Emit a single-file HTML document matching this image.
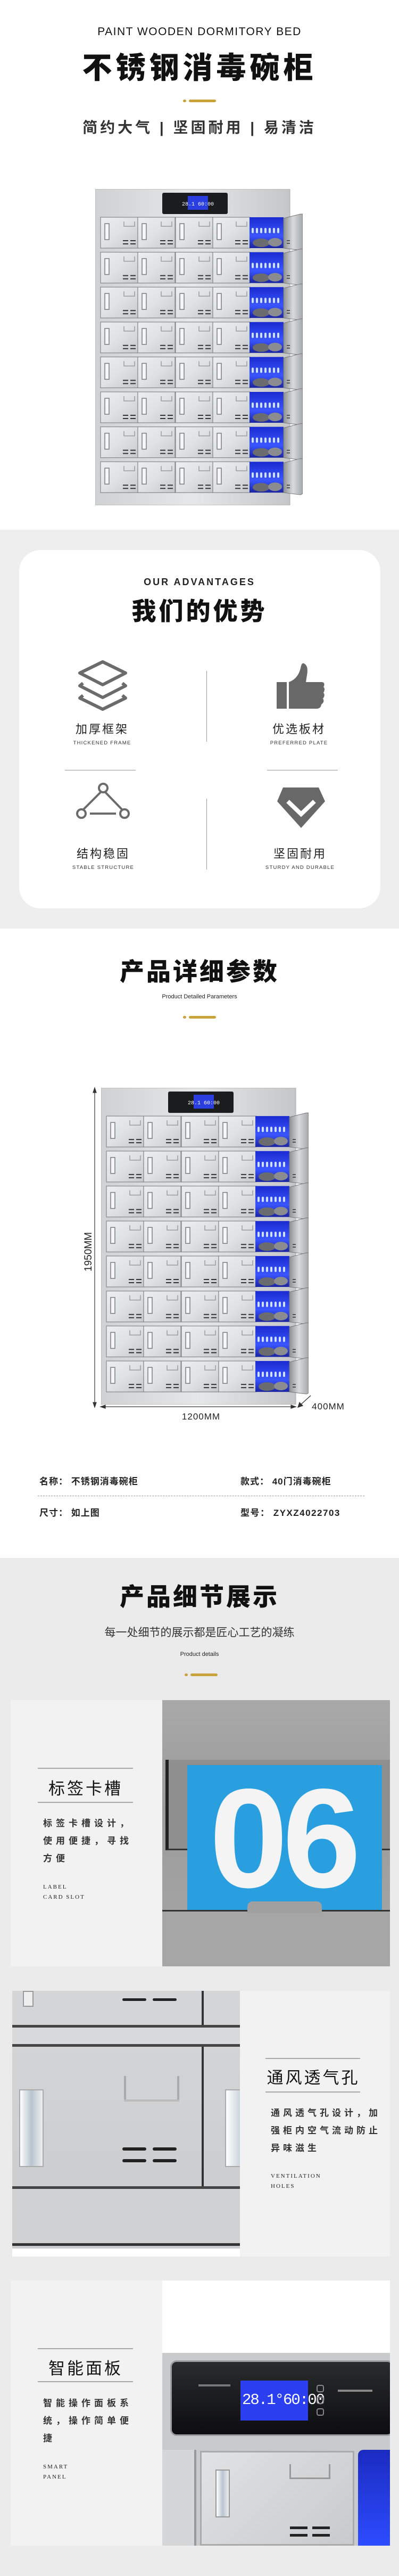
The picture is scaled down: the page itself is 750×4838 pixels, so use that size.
<!DOCTYPE html>
<html><head><meta charset="utf-8">
<style>
*{margin:0;padding:0;box-sizing:border-box}
body{width:750px;height:4838px;position:relative;background:#fff;font-family:"Liberation Sans","Noto Sans CJK SC",sans-serif;overflow:hidden}
.a{position:absolute}
.c{position:absolute;left:0;width:750px;text-align:center;white-space:nowrap}
.h{font-family:"Liberation Sans","Noto Sans CJK SC",sans-serif;font-weight:900;color:#111}
.gold{position:absolute;height:6px}
.lbl{font-size:22px;color:#222;letter-spacing:3px}
.en{font-size:9.5px;color:#333;letter-spacing:1.2px}
.dt{font-family:"Liberation Sans","Noto Sans CJK SC",sans-serif;font-size:31px;color:#111;letter-spacing:4px;width:180px;text-align:center}
.dd{font-size:17px;color:#333;font-weight:700;letter-spacing:7px;line-height:33px;width:180px}
.de{font-family:"Liberation Serif",serif;font-size:11px;letter-spacing:2px;color:#222;line-height:19px}
.ln{height:2px;background:#a9a9a9}
</style></head><body>
<svg width="0" height="0" style="position:absolute">
<defs>
<linearGradient id="dg" x1="0" y1="0" x2="1" y2="1"><stop offset="0" stop-color="#eceef0"/><stop offset=".5" stop-color="#dfe2e5"/><stop offset="1" stop-color="#c6c9cc"/></linearGradient>
<linearGradient id="bg" x1="0" y1="0" x2="0" y2="1"><stop offset="0" stop-color="#1a2bd0"/><stop offset=".6" stop-color="#3a55ff"/><stop offset="1" stop-color="#1a24a0"/></linearGradient>
<linearGradient id="og" x1="0" y1="0" x2="1" y2="0"><stop offset="0" stop-color="#8e9194"/><stop offset=".5" stop-color="#d8dadc"/><stop offset="1" stop-color="#a5a8ab"/></linearGradient>
<linearGradient id="body" x1="0" y1="0" x2="1" y2="0"><stop offset="0" stop-color="#cfd1d3"/><stop offset=".5" stop-color="#e6e7e9"/><stop offset="1" stop-color="#c4c6c8"/></linearGradient>
<g id="door">
<rect x="0" y="0" width="70" height="58" fill="url(#dg)" stroke="#85888b" stroke-width="1.2"/>
<rect x="8" y="12" width="8" height="30" fill="#f6f6f6" stroke="#7a7d80" stroke-width="1.5"/>
<path d="M44 8v9h20v-9" fill="none" stroke="#9a9da0" stroke-width="1.5"/>
<path d="M42 44h10M56 44h10M42 50h10M56 50h10" stroke="#333" stroke-width="2"/>
</g>
<g id="row">
<use href="#door" x="10"/><use href="#door" x="80"/><use href="#door" x="151"/><use href="#door" x="221"/>
<rect x="290" y="0" width="64" height="58" fill="url(#bg)"/>
<g fill="#cfe0ff"><rect x="294" y="20" width="4" height="10" rx="2"/><rect x="302" y="20" width="4" height="10" rx="2"/><rect x="310" y="20" width="4" height="10" rx="2"/><rect x="318" y="20" width="4" height="10" rx="2"/><rect x="326" y="20" width="4" height="10" rx="2"/><rect x="334" y="20" width="4" height="10" rx="2"/><rect x="342" y="20" width="4" height="10" rx="2"/></g>
<ellipse cx="312" cy="48" rx="16" ry="8" fill="#6a6c70"/><ellipse cx="338" cy="47" rx="13" ry="8" fill="#8a8c90"/>
<polygon points="354,2 386,-6 390,-6 390,60 386,62 354,58" fill="url(#og)" stroke="#777" stroke-width="1"/>
<path d="M360 44h6M360 49h6" stroke="#333" stroke-width="1.5"/>
</g>
<symbol id="cab" viewBox="0 0 390 594" preserveAspectRatio="none">
<rect x="0" y="0" width="366" height="594" fill="url(#body)" stroke="#aaa"/>
<rect x="126" y="7" width="123" height="40" rx="3" fill="#1b1c1e"/>
<rect x="174" y="13" width="38" height="26" fill="#2b3fe0"/>
<text x="193" y="31" font-size="10" fill="#fff" text-anchor="middle" font-family="Liberation Mono">28.1 60:00</text>
<use href="#row" y="53"/><use href="#row" y="118.6"/><use href="#row" y="184.2"/><use href="#row" y="249.8"/>
<use href="#row" y="315.4"/><use href="#row" y="381"/><use href="#row" y="446.6"/><use href="#row" y="512.2"/>
</symbol>
</defs></svg>

<!-- SECTION 1 -->
<div class="c" style="top:48px;font-size:21px;letter-spacing:1.5px;color:#111">PAINT WOODEN DORMITORY BED</div>
<div class="c h" style="top:96px;font-size:56px;letter-spacing:7px;line-height:64px">不锈钢消毒碗柜</div>
<div class="gold" style="left:344px;top:187px;width:6px;height:5px;border-radius:3px;background:#c9a23a"></div>
<div class="gold" style="left:355px;top:187px;width:51px;height:5px;border-radius:3px;background:#c9a23a"></div>
<div class="c" style="top:222px;font-size:28px;letter-spacing:5px;color:#333;font-weight:700;line-height:36px">简约大气 | 坚固耐用 | 易清洁</div>
<svg class="a" style="left:179px;top:355px" width="390" height="594"><use href="#cab" width="390" height="594"/></svg>

<!-- SECTION 2 advantages -->
<div class="a" style="left:0;top:995px;width:750px;height:749px;background:#eeeeee"></div>
<div class="a" style="left:36px;top:1033px;width:679px;height:673px;background:#fff;border-radius:40px"></div>
<div class="c" style="top:1083px;font-size:18px;letter-spacing:3px;color:#222;font-weight:700">OUR ADVANTAGES</div>
<div class="c h" style="top:1121px;font-size:46px;letter-spacing:5px;line-height:54px">我们的优势</div>
<svg class="a" style="left:0;top:0" width="750" height="1750">
<g fill="none" stroke="#6b6b6b" stroke-width="6" stroke-linejoin="round">
<path d="M193 1243 L236 1264 L193 1286 L150 1264 Z"/>
<path d="M156 1283 L150 1288 L193 1310 L236 1288 L230 1283"/>
<path d="M156 1306 L150 1311 L193 1332 L236 1311 L230 1306"/>
<line x1="169" y1="1528" x2="218" y2="1528" stroke-width="4"/>
<line x1="189" y1="1488" x2="157" y2="1520" stroke-width="4"/>
<line x1="198" y1="1488" x2="229" y2="1520" stroke-width="4"/>
<circle cx="194" cy="1480" r="8" stroke-width="4"/>
<circle cx="153" cy="1528" r="8" stroke-width="4"/>
<circle cx="234" cy="1528" r="8" stroke-width="4"/>
</g>
<g fill="#686868">
<rect x="520" y="1281" width="19" height="50"/>
<path d="M543 1281 Q560 1275 565 1255 Q567 1242 573 1247 Q580 1252 577 1268 L575 1281 L606 1281 Q612 1283 608 1290 Q612 1294 608 1301 Q612 1306 607 1312 Q611 1318 604 1323 Q603 1331 595 1331 L543 1331 Z"/>
<path d="M532 1479 L599 1479 L611 1505 L566 1555 L521 1505 Z"/>
</g>
<path d="M541 1505 L566 1529 L591 1505" fill="none" stroke="#fff" stroke-width="8"/>
<line x1="388.5" y1="1260" x2="388.5" y2="1393" stroke="#999" stroke-width="1"/>
<line x1="388.5" y1="1500" x2="388.5" y2="1633" stroke="#999" stroke-width="1"/>
<line x1="122" y1="1446.5" x2="255" y2="1446.5" stroke="#999"/>
<line x1="502" y1="1446.5" x2="635" y2="1446.5" stroke="#999"/>
</svg>
<div class="a lbl" style="left:92px;width:200px;text-align:center;top:1352px">加厚框架</div>
<div class="a en" style="left:92px;width:200px;text-align:center;top:1390px">THICKENED FRAME</div>
<div class="a lbl" style="left:462px;width:200px;text-align:center;top:1352px">优选板材</div>
<div class="a en" style="left:462px;width:200px;text-align:center;top:1390px">PREFERRED PLATE</div>
<div class="a lbl" style="left:94px;width:200px;text-align:center;top:1586px">结构稳固</div>
<div class="a en" style="left:94px;width:200px;text-align:center;top:1624px">STABLE STRUCTURE</div>
<div class="a lbl" style="left:464px;width:200px;text-align:center;top:1586px">坚固耐用</div>
<div class="a en" style="left:464px;width:200px;text-align:center;top:1624px">STURDY AND DURABLE</div>

<!-- SECTION 3 params -->
<div class="c h" style="top:1798px;font-size:46px;letter-spacing:4px;line-height:54px">产品详细参数</div>
<div class="c" style="top:1866px;font-size:11px;color:#222">Product Detailed Parameters</div>
<div class="gold" style="left:344px;top:1908px;width:6px;height:5px;border-radius:3px;background:#c9a23a"></div>
<div class="gold" style="left:355px;top:1908px;width:51px;height:5px;border-radius:3px;background:#c9a23a"></div>
<svg class="a" style="left:190px;top:2043px" width="390" height="595"><use href="#cab" width="390" height="595"/></svg>
<svg class="a" style="left:0;top:2000px" width="750" height="700">
<g stroke="#333" stroke-width="1.2" fill="#333">
<line x1="178" y1="46" x2="178" y2="640"/><path d="M175 52 L178 43 L181 52Z"/><path d="M175 634 L178 643 L181 634Z"/>
<line x1="192" y1="642" x2="553" y2="642"/><path d="M198 639 L189 642 L198 645Z"/><path d="M547 639 L556 642 L547 645Z"/>
<line x1="562" y1="641" x2="584" y2="621"/><path d="M563 634 L560 643 L569 640Z"/>
</g>
<text x="0" y="0" transform="translate(172 351) rotate(-90)" text-anchor="middle" font-size="19" fill="#222" font-family="Liberation Sans">1950MM</text>
<text x="378" y="666" text-anchor="middle" font-size="17" fill="#222" font-family="Liberation Sans" letter-spacing="1">1200MM</text>
<text x="617" y="647" text-anchor="middle" font-size="17" fill="#222" font-family="Liberation Sans" letter-spacing="1">400MM</text>
</svg>
<div class="a" style="left:74px;top:2768px;font-size:17px;font-weight:700;color:#222;letter-spacing:1px">名称： 不锈钢消毒碗柜</div>
<div class="a" style="left:452px;top:2768px;font-size:17px;font-weight:700;color:#222;letter-spacing:1px">款式： 40门消毒碗柜</div>
<div class="a" style="left:71px;top:2809px;width:614px;border-top:1px dashed #999"></div>
<div class="a" style="left:74px;top:2827px;font-size:17px;font-weight:700;color:#222;letter-spacing:1px">尺寸： 如上图</div>
<div class="a" style="left:452px;top:2827px;font-size:17px;font-weight:700;color:#222;letter-spacing:1.5px">型号： ZYXZ4022703</div>

<!-- SECTION 4 details -->
<div class="a" style="left:0;top:2926px;width:750px;height:1912px;background:#ebebeb"></div>
<div class="c h" style="top:2972px;font-size:46px;letter-spacing:4px;line-height:54px">产品细节展示</div>
<div class="c" style="top:3050px;font-size:21px;color:#333">每一处细节的展示都是匠心工艺的凝练</div>
<div class="c" style="top:3101px;font-size:11px;color:#222">Product details</div>
<div class="gold" style="left:347px;top:3143px;width:6px;height:5px;border-radius:3px;background:#c9a23a"></div>
<div class="gold" style="left:358px;top:3143px;width:51px;height:5px;border-radius:3px;background:#c9a23a"></div>

<!-- block 1 -->
<div class="a" style="left:20px;top:3193px;width:285px;height:500px;background:#f2f2f2"></div>
<div class="a" style="left:305px;top:3193px;width:428px;height:500px;background:linear-gradient(180deg,#a9a9a9,#9b9b9b 40%,#a7a7a7);overflow:hidden">
 <div class="a" style="left:6px;top:112px;width:430px;height:170px;background:#8f8f8f;border-left:6px solid #222;border-bottom:3px solid #333"></div>
 <div class="a" style="left:47px;top:122px;width:366px;height:272px;background:#2a9fe0"></div>
 <div class="a" style="left:56px;top:140px;width:340px;font-family:'Liberation Sans';font-weight:700;font-size:265px;line-height:240px;color:#f4f4f4;letter-spacing:-10px;text-align:center">06</div>
 <div class="a" style="left:0;top:394px;width:428px;height:106px;background:#a6a6a6;border-top:3px solid #333"></div>
 <div class="a" style="left:160px;top:378px;width:140px;height:22px;background:#a0a0a0;border-radius:10px 10px 0 0"></div>
</div>
<div class="a ln" style="left:71px;top:3320px;width:179px"></div>
<div class="a dt" style="left:71px;top:3334px">标签卡槽</div>
<div class="a ln" style="left:71px;top:3384px;width:179px"></div>
<div class="a dd" style="left:81px;top:3408px">标签卡槽设计，使用便捷，寻找方便</div>
<div class="a de" style="left:81px;top:3535px">LABEL<br>CARD SLOT</div>

<!-- block 2 -->
<div class="a" style="left:451px;top:3739px;width:282px;height:499px;background:#f2f2f2"></div>
<div class="a" style="left:23px;top:3739px;width:428px;height:499px;background:linear-gradient(180deg,#d4d6d8,#c9cbcd);overflow:hidden">
 <div class="a" style="left:20px;top:0;width:20px;height:30px;background:#eee;border:2px solid #999"></div>
 <div class="a" style="left:207px;top:14px;width:45px;height:5px;background:#222;border-radius:3px"></div>
 <div class="a" style="left:264px;top:14px;width:45px;height:5px;background:#222;border-radius:3px"></div>
 <div class="a" style="left:356px;top:0;width:4px;height:72px;background:#333"></div>
 <div class="a" style="left:0;top:64px;width:428px;height:5px;background:#444"></div>
 <div class="a" style="left:0;top:69px;width:428px;height:30px;background:#d7d9db"></div>
 <div class="a" style="left:0;top:100px;width:428px;height:5px;background:#444"></div>
 <div class="a" style="left:356px;top:105px;width:4px;height:262px;background:#333"></div>
 <div class="a" style="left:13px;top:185px;width:46px;height:146px;background:linear-gradient(90deg,#fff,#b8c4d0 50%,#eee);border:2px solid #aaa"></div>
 <div class="a" style="left:400px;top:185px;width:40px;height:146px;background:linear-gradient(90deg,#fff,#b8c4d0);border:2px solid #aaa"></div>
 <div class="a" style="left:210px;top:160px;width:4px;height:48px;background:#aaa"></div>
 <div class="a" style="left:310px;top:160px;width:4px;height:48px;background:#aaa"></div>
 <div class="a" style="left:210px;top:204px;width:104px;height:4px;background:#bbb"></div>
 <div class="a" style="left:207px;top:294px;width:45px;height:6px;background:#222;border-radius:3px"></div>
 <div class="a" style="left:264px;top:294px;width:45px;height:6px;background:#222;border-radius:3px"></div>
 <div class="a" style="left:207px;top:316px;width:45px;height:6px;background:#222;border-radius:3px"></div>
 <div class="a" style="left:264px;top:316px;width:45px;height:6px;background:#222;border-radius:3px"></div>
 <div class="a" style="left:0;top:367px;width:428px;height:5px;background:#444"></div>
 <div class="a" style="left:0;top:372px;width:428px;height:100px;background:#cfd1d3"></div>
 <div class="a" style="left:0;top:474px;width:428px;height:5px;background:#333"></div>
 <div class="a" style="left:0;top:484px;width:428px;height:15px;background:#fff"></div>
</div>
<div class="a ln" style="left:499px;top:3865px;width:178px"></div>
<div class="a dt" style="left:499px;top:3877px">通风透气孔</div>
<div class="a ln" style="left:499px;top:3928px;width:178px"></div>
<div class="a dd" style="left:509px;top:3952px;width:210px;letter-spacing:6px">通风透气孔设计，加强柜内空气流动防止异味滋生</div>
<div class="a de" style="left:509px;top:4078px">VENTILATION<br>HOLES</div>

<!-- block 3 -->
<div class="a" style="left:20px;top:4283px;width:285px;height:498px;background:#f2f2f2"></div>
<div class="a" style="left:305px;top:4283px;width:428px;height:498px;background:#fff;overflow:hidden">
 <div class="a" style="left:0;top:136px;width:428px;height:362px;background:#c8cacc"></div>
 <div class="a" style="left:15px;top:150px;width:420px;height:142px;background:linear-gradient(180deg,#2a2b2e,#0d0d0f);border-radius:12px;border:3px solid #9a9c9e"></div>
 <div class="a" style="left:68px;top:195px;width:60px;height:4px;background:#777"></div>
 <div class="a" style="left:147px;top:188px;width:127px;height:75px;background:#2b3ff0"></div>
 <div class="a" style="left:150px;top:208px;width:122px;font-family:'Liberation Mono';font-size:29px;color:#fff;text-align:center;letter-spacing:-2px">28.1°60:00</div>
 <div class="a" style="left:290px;top:196px;width:14px;height:14px;border:2px solid #888;border-radius:4px"></div>
 <div class="a" style="left:290px;top:218px;width:14px;height:14px;border:2px solid #888;border-radius:4px"></div>
 <div class="a" style="left:290px;top:240px;width:14px;height:14px;border:2px solid #888;border-radius:4px"></div>
 <div class="a" style="left:330px;top:205px;width:65px;height:4px;background:#888"></div>
 <div class="a" style="left:0;top:318px;width:64px;height:180px;background:#d4d6d8;border-right:4px solid #999"></div>
 <div class="a" style="left:71px;top:320px;width:290px;height:178px;background:linear-gradient(135deg,#e0e2e4,#c8cacc);border:3px solid #aaa"></div>
 <div class="a" style="left:100px;top:355px;width:27px;height:90px;background:linear-gradient(90deg,#fff,#b8c4d0 50%,#eee);border:2px solid #999"></div>
 <div class="a" style="left:239px;top:345px;width:77px;height:28px;border:3px solid #999;border-top:none"></div>
 <div class="a" style="left:240px;top:462px;width:33px;height:5px;background:#222"></div>
 <div class="a" style="left:282px;top:462px;width:33px;height:5px;background:#222"></div>
 <div class="a" style="left:240px;top:476px;width:33px;height:5px;background:#222"></div>
 <div class="a" style="left:282px;top:476px;width:33px;height:5px;background:#222"></div>
 <div class="a" style="left:368px;top:318px;width:60px;height:180px;background:linear-gradient(180deg,#1a2bc0,#2d4cff);border-radius:10px 0 0 0"></div>
</div>
<div class="a ln" style="left:71px;top:4410px;width:179px"></div>
<div class="a dt" style="left:71px;top:4423px">智能面板</div>
<div class="a ln" style="left:71px;top:4472px;width:179px"></div>
<div class="a dd" style="left:81px;top:4497px">智能操作面板系统，操作简单便捷</div>
<div class="a de" style="left:81px;top:4624px">SMART<br>PANEL</div>
</body></html>
